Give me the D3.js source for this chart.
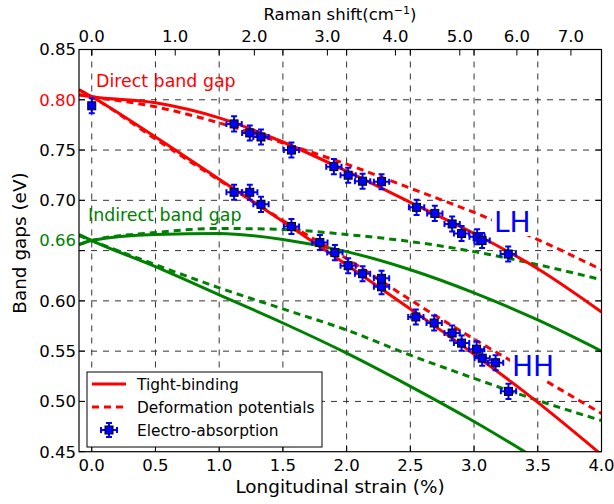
<!DOCTYPE html>
<html>
<head>
<meta charset="utf-8">
<script src="https://cdn.jsdelivr.net/npm/d3@7"></script>
<style>
  body { margin: 0; background: #fff; }
  text { font-family: "DejaVu Sans", sans-serif; }
</style>
</head>
<body>
<script>
// strain grid for the model curves (%)
var strainGrid = [-0.1, 0, 0.5, 1.0, 1.5, 2.0, 2.5, 3.0, 3.5, 4.0];

// direct gap, light hole / heavy hole (eV)
var lhTightBinding = [0.805, 0.803, 0.797, 0.782, 0.758, 0.729, 0.698, 0.667, 0.632, 0.589];
var lhDeformation  = [0.805, 0.803, 0.793, 0.777, 0.757, 0.736, 0.712, 0.688, 0.661, 0.631];
var hhTightBinding = [0.810, 0.803, 0.763, 0.721, 0.679, 0.636, 0.592, 0.547, 0.499, 0.447];
var hhDeformation  = [0.810, 0.803, 0.761, 0.720, 0.680, 0.642, 0.601, 0.562, 0.525, 0.488];

// indirect gap (eV)
var indUpperTB = [0.656, 0.660, 0.666, 0.667, 0.661, 0.649, 0.631, 0.608, 0.581, 0.550];
var indUpperDP = [0.656, 0.660, 0.668, 0.672, 0.671, 0.666, 0.659, 0.649, 0.636, 0.621];
var indLowerTB = [0.666, 0.660, 0.634, 0.606, 0.578, 0.548, 0.515, 0.480, 0.442, 0.402];
var indLowerDP = [0.665, 0.660, 0.636, 0.613, 0.592, 0.571, 0.546, 0.523, 0.501, 0.481];

// electro-absorption measurements
var lhStrain = [0.0, 1.117, 1.24, 1.328, 1.567, 1.90, 2.012, 2.125, 2.274, 2.549, 2.692, 2.828, 2.902, 3.024, 3.063, 3.268];
var lhGap    = [0.794, 0.776, 0.767, 0.763, 0.750, 0.7335, 0.725, 0.719, 0.7185, 0.693, 0.687, 0.6765, 0.667, 0.6638, 0.660, 0.6466];
var hhStrain = [1.117, 1.24, 1.328, 1.567, 1.79, 1.908, 2.012, 2.125, 2.274, 2.274, 2.543, 2.687, 2.828, 2.902, 3.02, 3.064, 3.169, 3.27];
var hhGap    = [0.708, 0.708, 0.696, 0.674, 0.658, 0.648, 0.635, 0.627, 0.6224, 0.614, 0.584, 0.578, 0.568, 0.558, 0.552, 0.543, 0.5385, 0.510];
var strainErr = 0.06;
var gapErr = 0.0075;

// axis ticks
var strainTicks = [0.0, 0.5, 1.0, 1.5, 2.0, 2.5, 3.0, 3.5, 4.0];
var gapTicks = [0.85, 0.80, 0.75, 0.70, 0.66, 0.60, 0.55, 0.50, 0.45];
var gapGrid = [0.80, 0.75, 0.70, 0.65, 0.60, 0.55, 0.50];
var ramanTicks = [0, 1, 2, 3, 4, 5, 6, 7];
var ramanStrain = [0, 0.655, 1.276, 1.849, 2.383, 2.888, 3.336, 3.760];

var width = 614;
var height = 504;
var svg = d3.select("body")
  .append("svg")
  .attr("width", width)
  .attr("height", height);

var x = d3.scaleLinear().domain([-0.1, 4.0]).range([79, 601.5]);
var y = d3.scaleLinear().domain([0.45, 0.85]).range([451.7, 49.5]);

svg.append("clipPath").attr("id", "plot")
  .append("rect")
  .attr("x", x(-0.1)).attr("y", y(0.85))
  .attr("width", x(4.0) - x(-0.1)).attr("height", y(0.45) - y(0.85));

// grid
var grid = svg.append("g").attr("stroke", "#333").attr("stroke-width", 1).attr("stroke-dasharray", "6,6");
grid.selectAll(".vg").data(strainTicks).enter().append("line")
  .attr("x1", function(d) { return x(d); }).attr("x2", function(d) { return x(d); })
  .attr("y1", y(0.85)).attr("y2", y(0.45));
grid.selectAll(".hg").data(gapGrid).enter().append("line")
  .attr("y1", function(d) { return y(d); }).attr("y2", function(d) { return y(d); })
  .attr("x1", x(-0.1)).attr("x2", x(4.0));

// model curves
var line = d3.line()
  .x(function(d, i) { return x(strainGrid[i]); })
  .y(function(d) { return y(d); })
  .curve(d3.curveMonotoneX);

var curves = [
  { values: indUpperDP, color: "#008000", dashed: true },
  { values: indLowerDP, color: "#008000", dashed: true },
  { values: indUpperTB, color: "#008000", dashed: false },
  { values: indLowerTB, color: "#008000", dashed: false },
  { values: lhDeformation, color: "#ff0000", dashed: true },
  { values: hhDeformation, color: "#ff0000", dashed: true },
  { values: lhTightBinding, color: "#ff0000", dashed: false },
  { values: hhTightBinding, color: "#ff0000", dashed: false }
];

svg.append("g").attr("clip-path", "url(#plot)")
  .selectAll("path")
  .data(curves)
  .enter().append("path")
    .attr("d", function(d) { return line(d.values); })
    .attr("fill", "none")
    .attr("stroke", function(d) { return d.color; })
    .attr("stroke-width", 3)
    .attr("stroke-dasharray", function(d) { return d.dashed ? "7,5" : null; });

// measurements with error bars
var points = lhStrain.map(function(s, i) { return { s: s, e: lhGap[i], xe: s === 0 ? 0 : strainErr }; })
  .concat(hhStrain.map(function(s, i) { return { s: s, e: hhGap[i], xe: strainErr }; }));

function drawMarker(g, px, py, hx, hy) {
  var c = 3;
  g.append("path")
    .attr("d",
      (hx > 0 ? "M" + (px - hx) + "," + py + "H" + (px + hx) +
                "M" + (px - hx) + "," + (py - c) + "V" + (py + c) +
                "M" + (px + hx) + "," + (py - c) + "V" + (py + c) : "") +
      "M" + px + "," + (py - hy) + "V" + (py + hy) +
      "M" + (px - c) + "," + (py - hy) + "H" + (px + c) +
      "M" + (px - c) + "," + (py + hy) + "H" + (px + c))
    .attr("stroke", "#0000ff")
    .attr("stroke-width", 2)
    .attr("fill", "none");
  g.append("rect")
    .attr("x", px - 4).attr("y", py - 4)
    .attr("width", 8).attr("height", 8)
    .attr("fill", "#0000ff")
    .attr("stroke", "#000")
    .attr("stroke-width", 1);
}

var pts = svg.append("g");
points.forEach(function(p) {
  drawMarker(pts, x(p.s), y(p.e), x(p.s + p.xe) - x(p.s), y(p.e - gapErr) - y(p.e));
});

// frame
svg.append("rect")
  .attr("x", x(-0.1)).attr("y", y(0.85))
  .attr("width", x(4.0) - x(-0.1)).attr("height", y(0.45) - y(0.85))
  .attr("fill", "none").attr("stroke", "#000").attr("stroke-width", 1.2);

// ticks (inside, matplotlib style)
var ticks = svg.append("g").attr("stroke", "#000").attr("stroke-width", 1);
strainTicks.forEach(function(t) {
  ticks.append("line").attr("x1", x(t)).attr("x2", x(t)).attr("y1", y(0.45)).attr("y2", y(0.45) - 6);
  ticks.append("line").attr("x1", x(t)).attr("x2", x(t)).attr("y1", y(0.85)).attr("y2", y(0.85) + 6);
});
ramanStrain.forEach(function(t) {
  ticks.append("line").attr("x1", x(t)).attr("x2", x(t)).attr("y1", y(0.85)).attr("y2", y(0.85) + 6);
});
gapGrid.concat([0.85, 0.45]).forEach(function(t) {
  ticks.append("line").attr("x1", x(-0.1)).attr("x2", x(-0.1) + 6).attr("y1", y(t)).attr("y2", y(t));
  ticks.append("line").attr("x1", x(4.0)).attr("x2", x(4.0) - 6).attr("y1", y(t)).attr("y2", y(t));
});

// tick labels
svg.append("g").selectAll("text").data(strainTicks).enter().append("text")
  .attr("x", function(d) { return x(d); })
  .attr("y", 471)
  .attr("text-anchor", "middle")
  .attr("font-size", 16.5)
  .text(function(d) { return d3.format(".1f")(d); });

svg.append("g").selectAll("text").data(ramanTicks).enter().append("text")
  .attr("x", function(d, i) { return x(ramanStrain[i]); })
  .attr("y", 42)
  .attr("text-anchor", "middle")
  .attr("font-size", 16.5)
  .text(function(d) { return d3.format(".1f")(d); });

svg.append("g").selectAll("text").data(gapTicks).enter().append("text")
  .attr("x", 76)
  .attr("y", function(d) { return y(d); })
  .attr("dy", "0.36em")
  .attr("text-anchor", "end")
  .attr("font-size", 16.5)
  .attr("fill", function(d) { return d === 0.80 ? "#ff0000" : d === 0.66 ? "#008000" : "#000"; })
  .text(function(d) { return d3.format(".2f")(d); });

// axis titles
svg.append("text")
  .attr("x", 340).attr("y", 493)
  .attr("text-anchor", "middle")
  .attr("font-size", 18.4)
  .text("Longitudinal strain (%)");

var ramanLabel = svg.append("text")
  .attr("x", 340).attr("y", 20)
  .attr("text-anchor", "middle")
  .attr("font-size", 16.5);
ramanLabel.append("tspan").text("Raman shift(cm");
ramanLabel.append("tspan").attr("font-size", 11).attr("dy", -6).text("\u22121");
ramanLabel.append("tspan").attr("dy", 6).text(")");

svg.append("text")
  .attr("transform", "translate(26,243) rotate(-90)")
  .attr("text-anchor", "middle")
  .attr("font-size", 18.4)
  .text("Band gaps (eV)");

// annotations
svg.append("text").attr("x", 96).attr("y", 87).attr("font-size", 17.4)
  .attr("fill", "#ff0000").text("Direct band gap");
svg.append("text").attr("x", 88).attr("y", 221).attr("font-size", 17.4)
  .attr("fill", "#008000").text("Indirect band gap");

[{ t: "LH", x: 494, y: 232 }, { t: "HH", x: 512, y: 376 }].forEach(function(a) {
  svg.append("rect").attr("x", a.x - 2).attr("y", a.y - 24).attr("width", 44).attr("height", 28).attr("fill", "#fff");
  svg.append("text").attr("x", a.x).attr("y", a.y).attr("font-size", 28)
    .attr("fill", "#0000ff").text(a.t);
});

// legend
var legend = svg.append("g");
legend.append("rect")
  .attr("x", 87).attr("y", 372).attr("width", 235).attr("height", 75)
  .attr("fill", "#fff").attr("stroke", "#000").attr("stroke-width", 1);
var entries = ["Tight-binding", "Deformation potentials", "Electro-absorption"];
entries.forEach(function(name, i) {
  var ly = 384 + i * 23;
  if (i < 2) {
    legend.append("line")
      .attr("x1", 92).attr("x2", 126).attr("y1", ly).attr("y2", ly)
      .attr("stroke", "#ff0000").attr("stroke-width", 3)
      .attr("stroke-dasharray", i === 1 ? "7,5" : null);
  } else {
    drawMarker(legend, 109, ly, 8, 7);
  }
  legend.append("text")
    .attr("x", 137).attr("y", ly).attr("dy", "0.36em")
    .attr("font-size", 15.4)
    .text(name);
});
</script>
</body>
</html>
